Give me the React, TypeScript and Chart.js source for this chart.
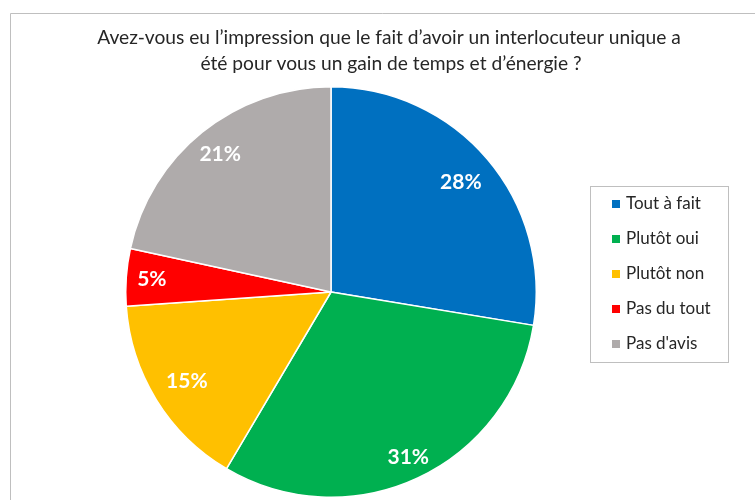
import React, { useEffect, useRef } from "react";
import { Chart, registerables } from "chart.js";

Chart.register(...registerables);

const categories = ["Tout à fait", "Plutôt oui", "Plutôt non", "Pas du tout", "Pas d'avis"];
const values = [27.6, 30.9, 15.4, 4.5, 21.6];
const pctLabels = ["28%", "31%", "15%", "5%", "21%"];
const colors = ["#0070C0", "#00B050", "#FFC000", "#FF0000", "#AFABAB"];
const titleLines = [
  "Avez-vous eu l\u2019impression que le fait d\u2019avoir un interlocuteur unique a",
  "été pour vous un gain de temps et d\u2019énergie ?",
];
const labelRadius = [0.83, 0.89, 0.825, 0.875, 0.86];

const FONT = "Lato, 'Open Sans', sans-serif";

const decorPlugin = {
  id: "decor",
  beforeDraw(chart: any) {
    const ctx = chart.ctx;
    ctx.save();
    ctx.fillStyle = "#ffffff";
    ctx.fillRect(0, 0, chart.width, chart.height);
    ctx.strokeStyle = "#BFBFBF";
    ctx.lineWidth = 1;
    ctx.beginPath();
    ctx.moveTo(10.5, chart.height);
    ctx.lineTo(10.5, 13.5);
    ctx.lineTo(chart.width, 13.5);
    ctx.stroke();
    ctx.restore();
  },
  afterDraw(chart: any) {
    const ctx = chart.ctx;
    ctx.save();
    // title
    ctx.fillStyle = "#262626";
    ctx.font = `19.2px ${FONT}`;
    ctx.textAlign = "center";
    ctx.textBaseline = "middle";
    ctx.fillText(titleLines[0], 389, 38);
    ctx.fillText(titleLines[1], 391, 63.5);

    // data labels
    const meta = chart.getDatasetMeta(0);
    ctx.font = `bold 21px ${FONT}`;
    ctx.fillStyle = "#ffffff";
    meta.data.forEach((arc: any, i: number) => {
      const p = arc.getProps(["x", "y", "startAngle", "endAngle", "outerRadius"], true);
      const mid = (p.startAngle + p.endAngle) / 2;
      const r = p.outerRadius * labelRadius[i];
      ctx.fillText(pctLabels[i], p.x + Math.cos(mid) * r, p.y + Math.sin(mid) * r);
    });

    // legend
    const bx = 590.5, by = 186.5, bw = 138, bh = 176;
    ctx.strokeStyle = "#BFBFBF";
    ctx.lineWidth = 1;
    ctx.strokeRect(bx, by, bw, bh);
    ctx.font = `17px ${FONT}`;
    ctx.textAlign = "left";
    categories.forEach((c, i) => {
      const cy = 204 + i * 35;
      ctx.fillStyle = colors[i];
      ctx.fillRect(612, cy - 4, 8, 8);
      ctx.fillStyle = "#262626";
      ctx.fillText(c, 626, cy);
    });
    ctx.restore();
  },
};

export default function App() {
  const ref = useRef<HTMLCanvasElement>(null);
  useEffect(() => {
    if (!ref.current) return;
    const chart = new Chart(ref.current, {
      type: "pie",
      data: {
        labels: categories,
        datasets: [
          {
            data: values,
            backgroundColor: colors,
            borderColor: "#ffffff",
            borderWidth: 1.5,
          },
        ],
      },
      options: {
        responsive: false,
        animation: false,
        layout: { padding: { left: 125, right: 218, top: 86, bottom: 2 } },
        plugins: {
          legend: { display: false },
          title: { display: false },
          tooltip: { enabled: false },
        },
      },
      plugins: [decorPlugin],
    });
    return () => chart.destroy();
  }, []);
  return (
    <div style={{ position: "fixed", left: 0, top: 0, width: 755, height: 500, background: "#fff" }}>
      <canvas ref={ref} width={755} height={500} style={{ width: 755, height: 500 }} />
    </div>
  );
}
